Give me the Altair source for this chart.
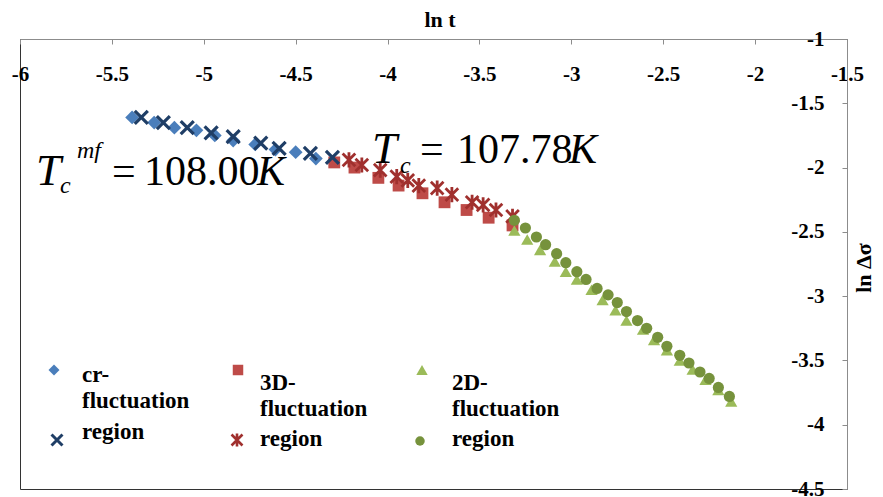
import altair as alt
import pandas as pd

# ---------------- data ----------------
x_ticks = [-6, -5.5, -5, -4.5, -4, -3.5, -3, -2.5, -2, -1.5]
y_ticks = [-4.5, -4, -3.5, -3, -2.5, -2, -1.5, -1]

cr_diamond_x = [-5.39, -5.27, -5.16, -5.04, -4.94, -4.84, -4.72, -4.61, -4.50, -4.39]
cr_diamond_y = [-1.61, -1.65, -1.69, -1.71, -1.75, -1.79, -1.82, -1.86, -1.88, -1.93]

cr_x_x = [-5.34, -5.22, -5.09, -4.96, -4.84, -4.69, -4.59, -4.42, -4.30]
cr_x_y = [-1.61, -1.65, -1.69, -1.73, -1.76, -1.81, -1.85, -1.89, -1.92]

d3_square_x = [-4.29, -4.18, -4.05, -3.94, -3.81, -3.69, -3.57, -3.45, -3.32]
d3_square_y = [-1.96, -2.00, -2.08, -2.14, -2.20, -2.27, -2.33, -2.39, -2.45]

d3_star_x = [-4.21, -4.14, -4.04, -3.95, -3.89, -3.83, -3.73, -3.65, -3.54, -3.48, -3.41, -3.32]
d3_star_y = [-1.94, -1.98, -2.02, -2.07, -2.10, -2.14, -2.16, -2.21, -2.27, -2.29, -2.33, -2.38]

d2_tri_x = [-3.31, -3.24, -3.17, -3.09, -3.03, -2.97, -2.89, -2.83, -2.76, -2.70,
            -2.61, -2.55, -2.48, -2.41, -2.34, -2.27, -2.20, -2.13]
d2_tri_y = [-2.49, -2.56, -2.64, -2.73, -2.81, -2.87, -2.95, -3.03, -3.11, -3.19,
            -3.26, -3.34, -3.42, -3.50, -3.57, -3.65, -3.73, -3.82]

d2_dot_x = [-3.31, -3.25, -3.19, -3.14, -3.08, -3.03, -2.97, -2.92, -2.86, -2.80, -2.75,
            -2.70, -2.64, -2.59, -2.53, -2.48, -2.41, -2.36, -2.30, -2.25, -2.20, -2.14]
d2_dot_y = [-2.41, -2.47, -2.54, -2.60, -2.67, -2.74, -2.81, -2.87, -2.94, -2.99, -3.05,
            -3.12, -3.19, -3.25, -3.32, -3.39, -3.46, -3.52, -3.59, -3.64, -3.71, -3.78]

legend_labels = [["cr-", "fluctuation", "region"],
                 ["3D-", "fluctuation", "region"],
                 ["2D-", "fluctuation", "region"]]

# ---------------- styling ----------------
SERIF = "Liberation Serif"
X_SHAPE = "M-1,-1L1,1M-1,1L1,-1"
STAR_SHAPE = "M-1,-1L1,1M-1,1L1,-1M0,-1.2L0,1.2"

W, H = 827, 450
xscale = alt.Scale(domain=[-6, -1.5], nice=False, zero=False)
yscale = alt.Scale(domain=[-4.5, -1], nice=False, zero=False)

x_axis = alt.Axis(orient="bottom", offset=-H, values=x_ticks, title=None, grid=False,
                  domainColor="#8c8c8c", tickColor="#8c8c8c", tickSize=5,
                  labelFont=SERIF, labelFontWeight="bold", labelFontSize=21,
                  labelColor="black", labelPadding=19, labelOverlap=False,
                  labelFlush=False, labelExpr="toString(datum.value)")
y_axis = alt.Axis(orient="left", offset=-W, values=y_ticks, title=None, grid=False,
                  domainColor="#8c8c8c", tickColor="#8c8c8c", tickSize=5,
                  labelFont=SERIF, labelFontWeight="bold", labelFontSize=21,
                  labelColor="black", labelPadding=18, labelOverlap=False,
                  labelFlush=False, labelExpr="toString(datum.value)")


def series(xs, ys, shape, color, size, filled=True, stroke_width=0):
    df = pd.DataFrame({"x": xs, "y": ys})
    if filled:
        mk = alt.Chart(df).mark_point(shape=shape, filled=True, size=size, color=color, opacity=1)
    else:
        mk = alt.Chart(df).mark_point(shape=shape, filled=False, size=size, color=color,
                                      strokeWidth=stroke_width, opacity=1)
    return mk.encode(
        x=alt.X("x:Q", scale=xscale, axis=x_axis),
        y=alt.Y("y:Q", scale=yscale, axis=y_axis),
    )


def label(text, px, py, size, italic=False, bold=False, align="left",
          baseline="alphabetic", angle=0):
    kw = dict(align=align, baseline=baseline, font=SERIF, fontSize=size, color="black")
    if italic:
        kw["fontStyle"] = "italic"
    if bold:
        kw["fontWeight"] = "bold"
    if angle:
        kw["angle"] = angle
    return alt.Chart(pd.DataFrame({"t": [text]})).mark_text(**kw).encode(
        text="t:N", x=alt.value(px), y=alt.value(py))


def symbol(px, py, shape, color, size, filled=True, stroke_width=0):
    df = pd.DataFrame({"a": [0]})
    if filled:
        mk = alt.Chart(df).mark_point(shape=shape, filled=True, size=size, color=color, opacity=1)
    else:
        mk = alt.Chart(df).mark_point(shape=shape, filled=False, size=size, color=color,
                                      strokeWidth=stroke_width, opacity=1)
    return mk.encode(x=alt.value(px), y=alt.value(py))


C_DIAM = "#4A7EBB"
C_X = "#1F3E66"
C_SQ = "#BE4B48"
C_STAR = "#A0302E"
C_TRI = "#9BBB59"
C_DOT = "#76923C"

layers = [
    series(cr_diamond_x, cr_diamond_y, "diamond", C_DIAM, 190),
    series(d3_square_x, d3_square_y, "square", C_SQ, 140),
    series(d2_tri_x, d2_tri_y, "triangle-up", C_TRI, 150),
    series(cr_x_x, cr_x_y, X_SHAPE, C_X, 170, filled=False, stroke_width=3.2),
    series(d3_star_x, d3_star_y, STAR_SHAPE, C_STAR, 160, filled=False, stroke_width=2.8),
    series(d2_dot_x, d2_dot_y, "circle", C_DOT, 125),
]

# axis titles
layers += [
    label("ln t", 420, -19, 22, bold=True, align="center", baseline="middle"),
    label("ln Δσ", 844, 229, 22, bold=True, align="center", baseline="middle", angle=270),
]

# formula annotations
layers += [
    label("T", 16, 146, 45, italic=True),
    label("mf", 57, 119, 24, italic=True),
    label("c", 40, 154, 24, italic=True),
    label("=", 92, 146, 42),
    label("108.00", 124, 146, 42),
    label("K", 237, 146, 42, italic=True),
    label("T", 352, 124, 45, italic=True),
    label("c", 380, 134, 24, italic=True),
    label("=", 400, 124, 42),
    label("107.78", 437, 124, 42),
    label("K", 549, 124, 42, italic=True),
]

# legend
col_sym = [
    (34, 331, "diamond", C_DIAM, 120, True, 0, 37, 401, X_SHAPE, C_X, 120, False, 3),
    (218, 331, "square", C_SQ, 110, True, 0, 217, 401, STAR_SHAPE, C_STAR, 120, False, 2.6),
    (402, 331, "triangle-up", C_TRI, 130, True, 0, 400, 402, "circle", C_DOT, 90, True, 0),
]
col_text = [(62, [336, 362, 393]), (240, [344, 370, 400]), (432, [344, 370, 400])]
for (sx1, sy1, sh1, c1, s1, f1, w1, sx2, sy2, sh2, c2, s2, f2, w2), (tx, tys), lines in zip(
        col_sym, col_text, legend_labels):
    layers.append(symbol(sx1, sy1, sh1, c1, s1, f1, w1))
    layers.append(symbol(sx2, sy2, sh2, c2, s2, f2, w2))
    for ln, ty in zip(lines, tys):
        layers.append(label(ln, tx, ty, 23, bold=True, baseline="middle"))

chart = alt.layer(*layers).properties(
    width=W, height=H,
    padding={"left": 12, "top": 31, "right": 28, "bottom": 8},
    autosize=alt.AutoSizeParams(type="none"),
).configure_view(stroke="#333333", strokeWidth=1)

chart.save("out.html", embed_options={"renderer": "svg", "actions": False})
